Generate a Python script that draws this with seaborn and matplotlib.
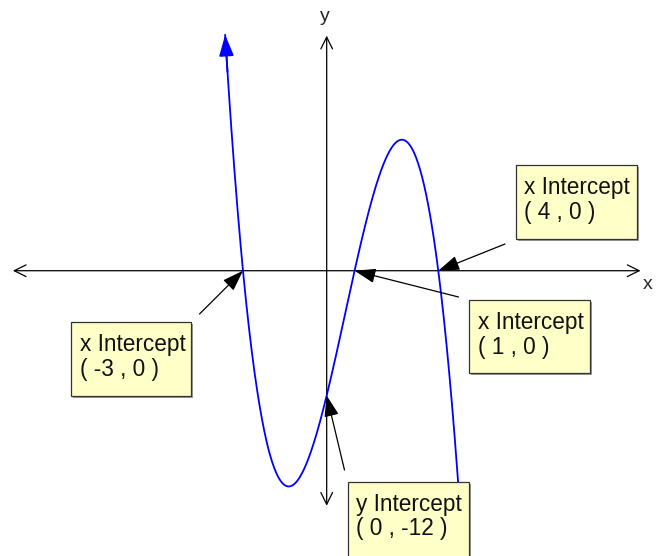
import numpy as np
import pandas as pd
import matplotlib
matplotlib.use("Agg")
import matplotlib.pyplot as plt
import seaborn as sns
from matplotlib.patches import Rectangle

# ---- data ----
x_roots = [-3, 1, 4]          # labelled x intercepts
y_intercept = -12             # labelled y intercept
curve_x_start, curve_x_end = -3.64, 4.8
box_titles = ["x Intercept", "x Intercept", "x Intercept", "y Intercept"]
box_coords = ["( 4 , 0 )", "( 1 , 0 )", "( -3 , 0 )", "( 0 , -12 )"]
box_targets = [(4, 0), (1, 0), (-3, 0), (0, -12)]

# cubic through the labelled intercepts
base = np.poly(x_roots)
lead = y_intercept / np.polyval(base, 0)
coeffs = lead * base
xs = np.linspace(curve_x_start, curve_x_end, 600)
df = pd.DataFrame({"x": xs, "y": np.polyval(coeffs, xs)})

W, H = 657, 556
sns.set_theme(style="white")
plt.rcParams["font.family"] = ["Liberation Sans", "DejaVu Sans"]

fig = plt.figure(figsize=(W / 100, H / 100), dpi=100)
ax = fig.add_axes([0, 0, 1, 1])
ax.set_xlim(-11.71, 11.84)
ax.set_ylim(-27.43, 26.03)
ax.axis("off")

# axes with open arrow heads
axkw = dict(arrowstyle="<->,head_length=0.85,head_width=0.42", color="black",
            lw=0.9, shrinkA=0, shrinkB=0, mutation_scale=10)
ax.annotate("", xy=(11.25, 0), xytext=(-11.25, 0), arrowprops=axkw, zorder=1)
ax.annotate("", xy=(0, 22.6), xytext=(0, -22.6), arrowprops=axkw, zorder=1)

def px(x, y):
    return x / W, 1 - y / H

fig.text(*px(648, 289), "x", fontsize=14, ha="center", va="baseline")
fig.text(*px(325, 21), "y", fontsize=14, ha="center", va="baseline")

# curve
sns.lineplot(data=df, x="x", y="y", ax=ax, color="#0000FF", lw=1.3,
             sort=False, zorder=2, legend=False)
ax.annotate("", xy=(df.x.iloc[0], df.y.iloc[0]), xytext=(df.x.iloc[6], df.y.iloc[6]),
            arrowprops=dict(arrowstyle="-|>,head_length=1.3,head_width=0.45",
                            color="#0000FF", lw=1.3, shrinkA=0, shrinkB=0,
                            mutation_scale=10), zorder=3)

# annotation boxes (pixel layout)
boxes = [(515.5, 165, 121, 74), (469, 300, 121, 73), (70.5, 322, 121, 74), (347.5, 481.5, 121, 80)]
tails = [(505, 244), (458.5, 297), (199.5, 314), (344.5, 470)]

for title, coord, target, (bx, by, bw, bh), (tx, ty) in zip(
        box_titles, box_coords, box_targets, boxes, tails):
    # arrow from tail to intercept
    tail_data = ax.transData.inverted().transform(
        fig.transFigure.transform(px(tx, ty)))
    ax.annotate("", xy=target, xytext=tail_data,
                arrowprops=dict(arrowstyle="-|>,head_length=1.3,head_width=0.45",
                                color="black", lw=0.9, shrinkA=0, shrinkB=0,
                                mutation_scale=10), zorder=4)
    # shadow
    sx, sy = px(bx + 2, by + bh + 2)
    fig.add_artist(Rectangle((sx, sy), bw / W, bh / H, transform=fig.transFigure,
                             facecolor="#9a9a9a", edgecolor="none", zorder=5))
    x0, y0 = px(bx, by + bh)
    fig.add_artist(Rectangle((x0, y0), bw / W, bh / H, transform=fig.transFigure,
                             facecolor="#FFFFC8", edgecolor="#333333", lw=0.9, zorder=6))
    fig.text(*px(bx + 9, by + 29), title, fontsize=16.3, ha="left", va="baseline",
             color="#111111", zorder=7)
    fig.text(*px(bx + 9, by + 54), coord, fontsize=16.3, ha="left", va="baseline",
             color="#111111", zorder=7)

fig.savefig("out.png", dpi=100)
